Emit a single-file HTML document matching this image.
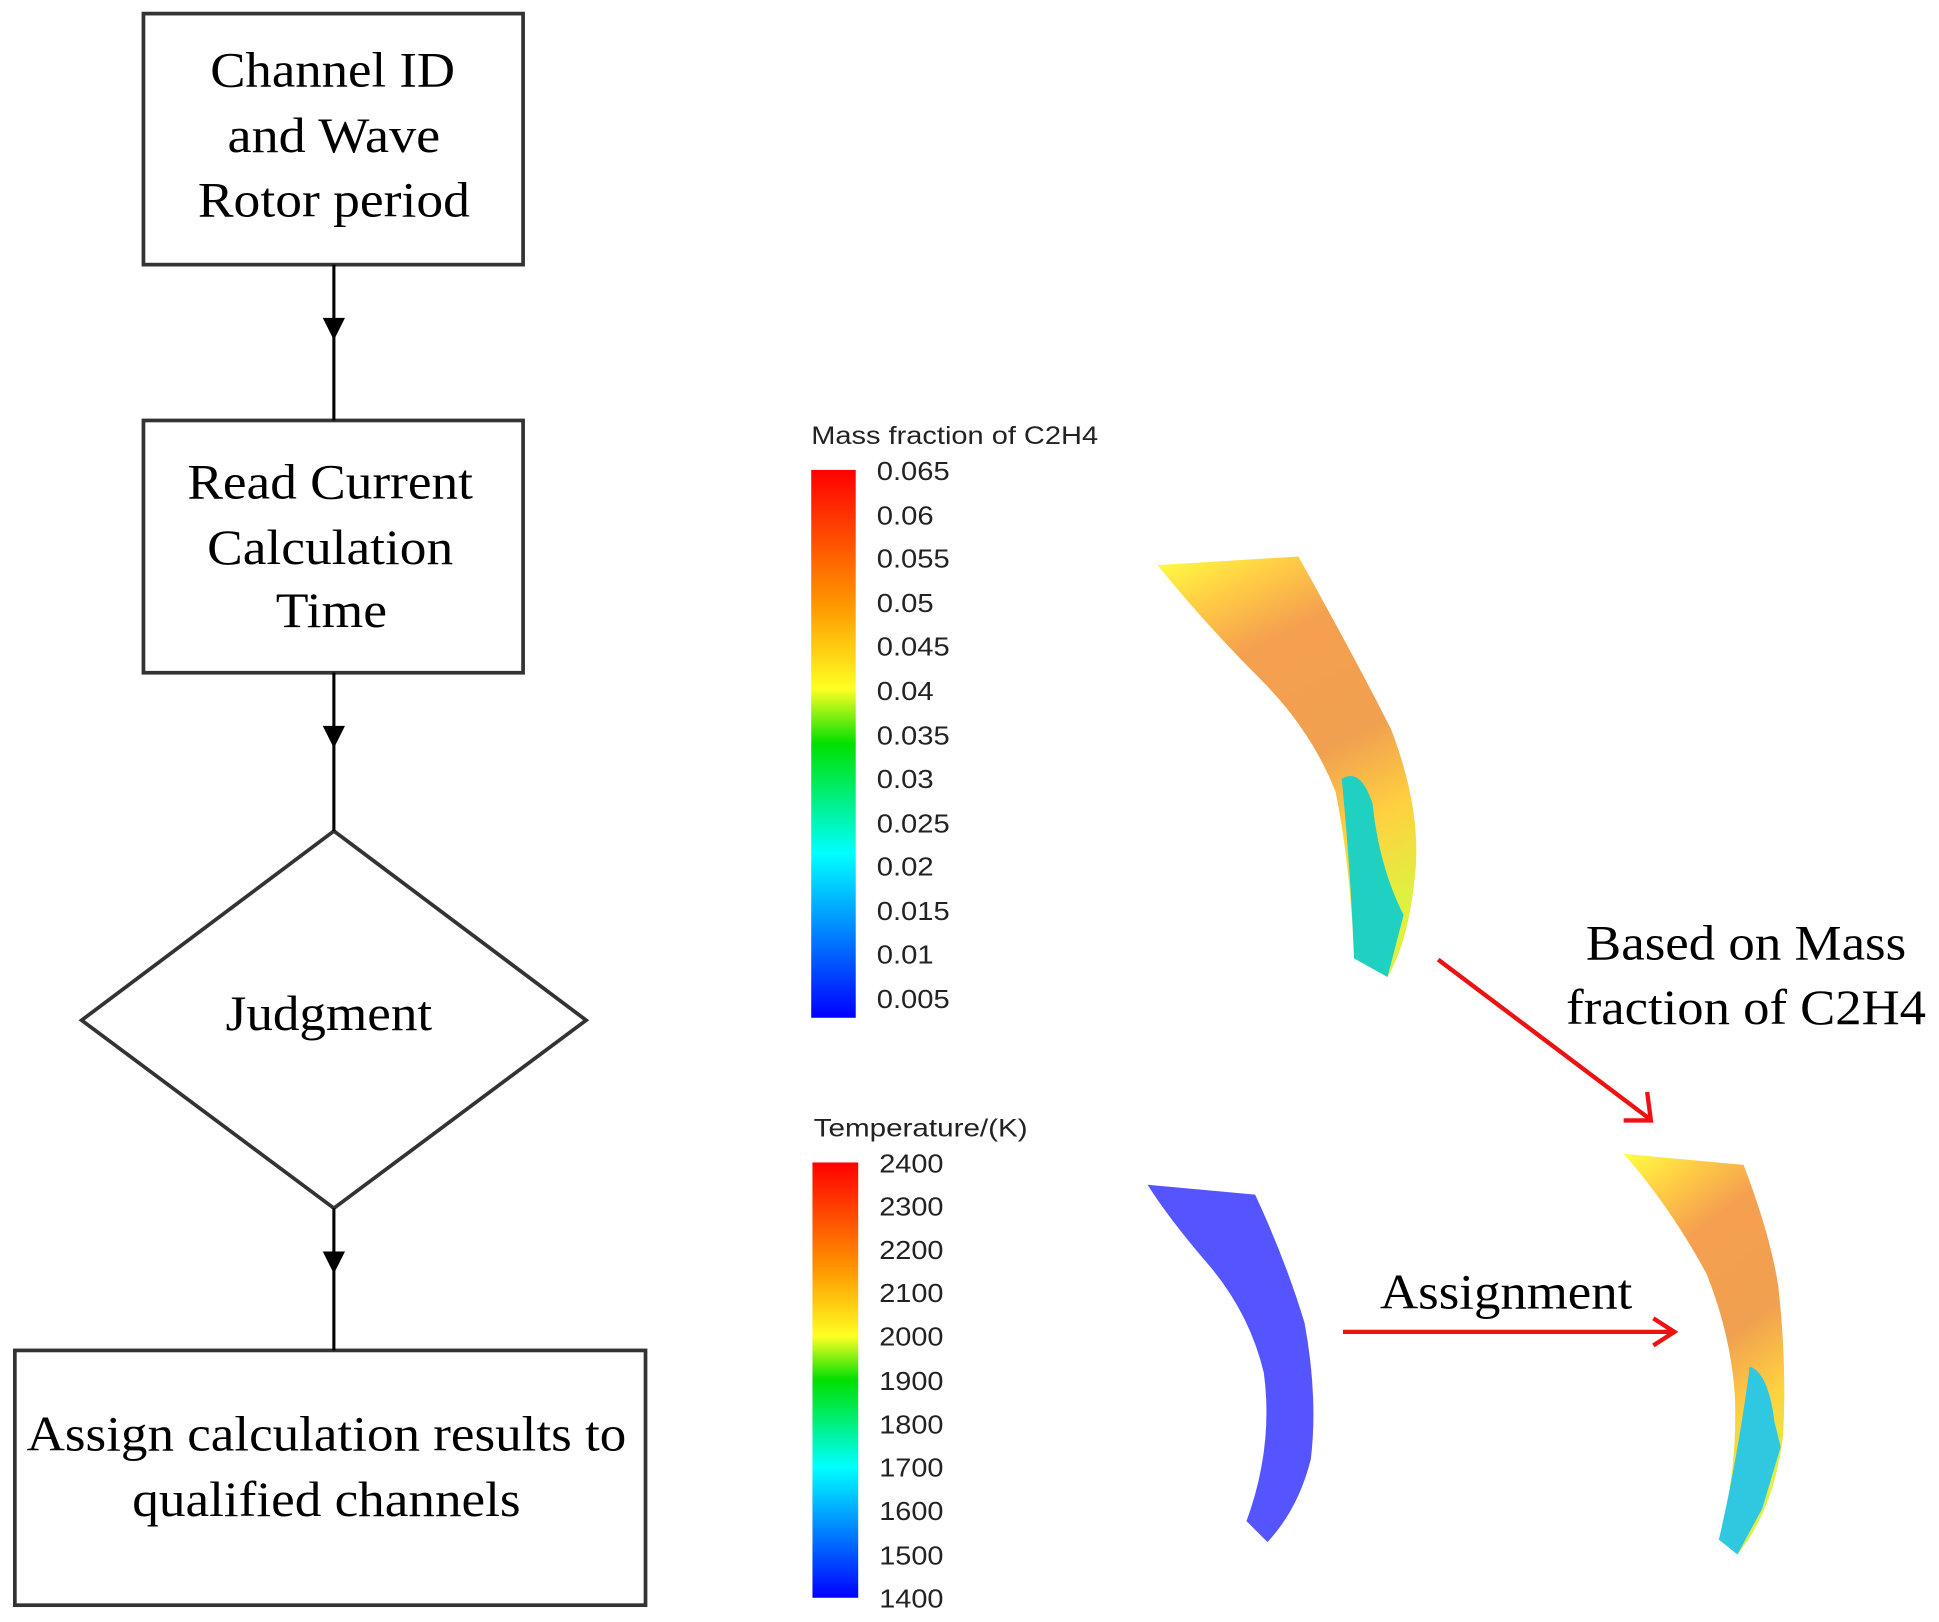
<!DOCTYPE html>
<html><head><meta charset="utf-8"><style>html,body{margin:0;padding:0;background:#fff}svg{display:block}</style></head>
<body>
<svg width="1939" height="1622" viewBox="0 0 1568 1311.6" preserveAspectRatio="none" xmlns="http://www.w3.org/2000/svg">
<defs>
<linearGradient id="cb" x1="0" y1="0" x2="0" y2="1">
<stop offset="0" stop-color="#ff0000"/><stop offset="0.25" stop-color="#ff9900"/><stop offset="0.4" stop-color="#ffff22"/>
<stop offset="0.5" stop-color="#00e000"/><stop offset="0.7" stop-color="#00ffff"/><stop offset="1" stop-color="#0000ff"/>
</linearGradient>
<linearGradient id="s1" x1="0" y1="0" x2="0.3" y2="1">
<stop offset="0" stop-color="#ffff44"/><stop offset="0.15" stop-color="#ffcc44"/><stop offset="0.3" stop-color="#f5a050"/><stop offset="0.6" stop-color="#f0a050"/><stop offset="0.8" stop-color="#ffd040"/><stop offset="1" stop-color="#e0f040"/>
</linearGradient>
</defs>
<g fill="none" stroke="#333" stroke-width="3">
<rect x="116" y="11" width="307" height="203"/>
<rect x="116" y="340" width="307" height="204"/>
<polygon points="270,672 474,825 270,977 66,825"/>
<rect x="12" y="1092" width="510" height="206"/>
</g>
<g stroke="#000" stroke-width="2.5">
<line x1="270" y1="214" x2="270" y2="340"/><line x1="270" y1="544" x2="270" y2="672"/><line x1="270" y1="977" x2="270" y2="1092"/>
</g>
<g fill="#000"><path d="M261,257 L279,257 L270,275Z"/><path d="M261,587 L279,587 L270,605Z"/><path d="M261,1012 L279,1012 L270,1030Z"/></g>
<g font-family="Liberation Serif, serif" font-size="40" text-anchor="middle" fill="#000" lengthAdjust="spacingAndGlyphs">
<text x="269" y="70" textLength="198" lengthAdjust="spacingAndGlyphs">Channel ID</text>
<text x="270" y="123" textLength="172" lengthAdjust="spacingAndGlyphs">and Wave</text>
<text x="270" y="175" textLength="220" lengthAdjust="spacingAndGlyphs">Rotor period</text>
<text x="267" y="403" textLength="231" lengthAdjust="spacingAndGlyphs">Read Current</text>
<text x="267" y="456" textLength="199" lengthAdjust="spacingAndGlyphs">Calculation</text>
<text x="268" y="507" textLength="90" lengthAdjust="spacingAndGlyphs">Time</text>
<text x="266" y="833" textLength="167" lengthAdjust="spacingAndGlyphs">Judgment</text>
<text x="264" y="1173" textLength="485" lengthAdjust="spacingAndGlyphs">Assign calculation results to</text>
<text x="264" y="1226" textLength="314" lengthAdjust="spacingAndGlyphs">qualified channels</text>
<text x="1412" y="776" textLength="259" lengthAdjust="spacingAndGlyphs">Based on Mass</text>
<text x="1412" y="828" textLength="291" lengthAdjust="spacingAndGlyphs">fraction of C2H4</text>
<text x="1218" y="1058" textLength="204" lengthAdjust="spacingAndGlyphs">Assignment</text>
</g>
<rect x="656" y="380" width="36" height="443" fill="url(#cb)"/>
<rect x="657" y="940" width="37" height="352" fill="url(#cb)"/>
<g font-family="Liberation Sans, sans-serif" font-size="21" fill="#222">
<text x="656" y="359" font-size="20" textLength="232" lengthAdjust="spacingAndGlyphs">Mass fraction of C2H4</text>
<text x="709" y="388" textLength="59" lengthAdjust="spacingAndGlyphs">0.065</text><text x="709" y="424" textLength="46" lengthAdjust="spacingAndGlyphs">0.06</text><text x="709" y="459" textLength="59" lengthAdjust="spacingAndGlyphs">0.055</text><text x="709" y="495" textLength="46" lengthAdjust="spacingAndGlyphs">0.05</text><text x="709" y="530" textLength="59" lengthAdjust="spacingAndGlyphs">0.045</text><text x="709" y="566" textLength="46" lengthAdjust="spacingAndGlyphs">0.04</text><text x="709" y="602" textLength="59" lengthAdjust="spacingAndGlyphs">0.035</text><text x="709" y="637" textLength="46" lengthAdjust="spacingAndGlyphs">0.03</text><text x="709" y="673" textLength="59" lengthAdjust="spacingAndGlyphs">0.025</text><text x="709" y="708" textLength="46" lengthAdjust="spacingAndGlyphs">0.02</text><text x="709" y="744" textLength="59" lengthAdjust="spacingAndGlyphs">0.015</text><text x="709" y="779" textLength="46" lengthAdjust="spacingAndGlyphs">0.01</text><text x="709" y="815" textLength="59" lengthAdjust="spacingAndGlyphs">0.005</text>
<text x="658" y="919" font-size="20" textLength="173" lengthAdjust="spacingAndGlyphs">Temperature/(K)</text>
<g textLength="52"><text x="711" y="948" textLength="52" lengthAdjust="spacingAndGlyphs">2400</text><text x="711" y="983" textLength="52" lengthAdjust="spacingAndGlyphs">2300</text><text x="711" y="1018" textLength="52" lengthAdjust="spacingAndGlyphs">2200</text><text x="711" y="1053" textLength="52" lengthAdjust="spacingAndGlyphs">2100</text><text x="711" y="1088" textLength="52" lengthAdjust="spacingAndGlyphs">2000</text><text x="711" y="1124" textLength="52" lengthAdjust="spacingAndGlyphs">1900</text><text x="711" y="1159" textLength="52" lengthAdjust="spacingAndGlyphs">1800</text><text x="711" y="1194" textLength="52" lengthAdjust="spacingAndGlyphs">1700</text><text x="711" y="1229" textLength="52" lengthAdjust="spacingAndGlyphs">1600</text><text x="711" y="1265" textLength="52" lengthAdjust="spacingAndGlyphs">1500</text><text x="711" y="1300" textLength="52" lengthAdjust="spacingAndGlyphs">1400</text></g>
</g>
<path d="M936,457 L1050,450 Q1100,540 1125,590 Q1148,650 1145,700 Q1140,760 1122,790 L1095,775 Q1092,700 1080,640 Q1060,590 1020,550 Q975,505 936,457Z" fill="url(#s1)"/>
<path d="M1085,630 Q1100,620 1110,650 Q1115,700 1135,740 L1122,790 L1095,775 Q1092,700 1085,630Z" fill="#20d0c0"/>
<path d="M928,958 L1015,966 Q1040,1020 1055,1070 Q1066,1130 1060,1180 Q1050,1220 1025,1247 L1008,1230 Q1030,1170 1022,1110 Q1010,1060 975,1020 Q945,985 928,958Z" fill="#5555ff"/>
<path d="M1313,933 L1410,942 Q1432,1000 1438,1040 Q1445,1100 1442,1160 Q1435,1220 1405,1257 L1390,1245 Q1405,1190 1403,1130 Q1400,1080 1380,1030 Q1350,975 1313,933Z" fill="url(#s1)"/>
<path d="M1415,1105 Q1430,1110 1435,1150 L1440,1170 L1425,1220 L1405,1257 L1390,1245 Q1405,1180 1415,1105Z" fill="#30c8e0"/>
<g stroke="#ee1111" stroke-width="3.5" fill="none">
<line x1="1163" y1="776" x2="1333" y2="904"/><path d="M1313,906 L1335,906 L1332,883"/>
<line x1="1086" y1="1077" x2="1353" y2="1077"/><path d="M1337,1066 L1354,1077 L1337,1088"/>
</g>
</svg>
</body></html>
